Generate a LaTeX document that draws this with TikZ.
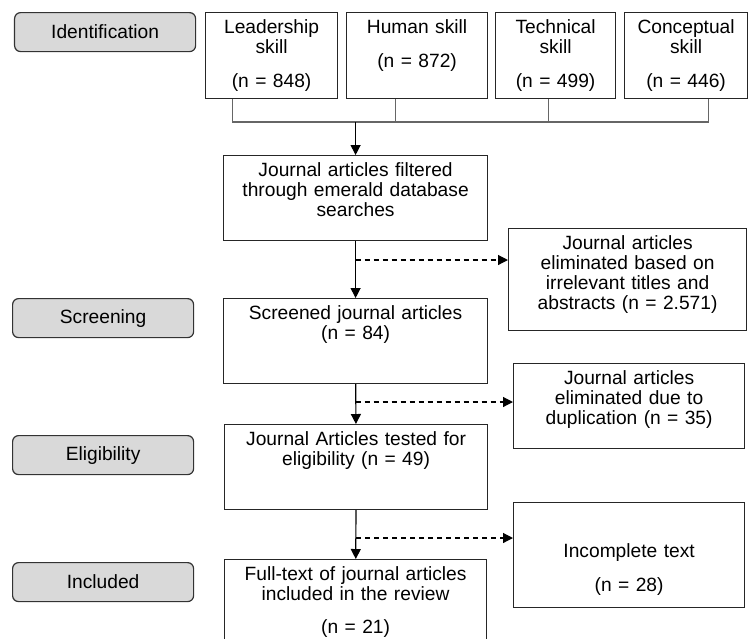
\documentclass[tikz,border=0pt]{standalone}
\usepackage{fontspec}
\setmainfont{Liberation Sans}
\usetikzlibrary{arrows.meta,calc}

\begin{document}
\begin{tikzpicture}[x=0.5pt, y=-0.5pt,
  every node/.style={font=\fontsize{9.6}{10}\selectfont},
  phase/.style={draw=black!80, fill=gray!30, rounded corners=3pt,
                line width=0.6pt, minimum width=90.5pt, minimum height=19.5pt,
                anchor=north west, inner sep=0pt},
  pbox/.style={draw=black!85, line width=0.6pt, anchor=north west,
               align=center, inner sep=0pt, text height=10.5pt},
  link/.style={draw=black!60, line width=0.7pt},
  arr/.style={-{Triangle[length=5pt, width=5pt]}, line width=0.6pt},
  darr/.style={arr, dash pattern=on 2.5pt off 2pt},
]
\useasboundingbox (0,0) rectangle (752,639);
\clip (0,0) rectangle (752,639);

% phases
\node[phase] (idn) at (14,12) {Identification};
\node[phase] (scrn) at (12,298) {Screening};
\node[phase] (elig) at (12,435) {Eligibility};
\node[phase] (incl) at (12,562) {Included};

% skill searches
\node[pbox, text width=66pt, text depth=32.5pt] (lead) at (205,12)
  {Leadership\\skill\\[7pt](n = 848)};
\node[pbox, text width=70.5pt, text depth=32.5pt] (hum) at (346,12)
  {Human skill\\[7pt](n = 872)};
\node[pbox, text width=60pt, text depth=32.5pt] (tec) at (495,12)
  {Technical\\skill\\[7pt](n = 499)};
\node[pbox, text width=61.5pt, text depth=32.5pt] (cpt) at (624,12)
  {Conceptual\\skill\\[7pt](n = 446)};

% main flow
\node[pbox, text width=132pt, text depth=32pt] (filt) at (223,155)
  {Journal articles filtered\\through emerald database\\searches};
\node[pbox, text width=132pt, text depth=32pt] (scr) at (223,298)
  {Screened journal articles\\(n = 84)};
\node[pbox, text width=131.5pt, text depth=32pt] (elg) at (224,424)
  {Journal Articles tested for\\eligibility (n = 49)};
\node[pbox, text width=131pt, text depth=40pt] (inc) at (224,559)
  {Full-text of journal articles\\included in the review\\[6.5pt](n = 21)};

% exclusions
\node[pbox, text width=119pt, text depth=40.5pt] (ex1) at (508,228)
  {Journal articles\\eliminated based on\\irrelevant titles and\\abstracts (n = 2.571)};
\node[pbox, text width=115.5pt, text depth=32pt] (ex2) at (513,363)
  {Journal articles\\eliminated due to\\duplication (n = 35)};
\node[pbox, text width=115.5pt, text depth=42pt] (ex3) at (513,502)
  {\mbox{}\\[7pt]Incomplete text\\[7pt](n = 28)};

% merge of the searches
\coordinate (bar) at (filt.north |- 0,122);
\foreach \n/\s in {lead/-19.5pt, hum/-10.75pt, tec/-3.5pt, cpt/11.25pt}
  \draw[link] ([xshift=\s]\n.south) |- (bar);
\draw[arr] (bar) -- (filt.north);

\draw[arr] (filt) -- (scr);
\draw[arr] (scr) -- (elg);
\draw[arr] (elg) -- (inc);

\coordinate (d1) at (filt.south |- 0,260);
\coordinate (d2) at (scr.south |- 0,402);
\coordinate (d3) at (elg.south |- 0,538);
\draw[darr] (d1) -- (d1 -| ex1.west);
\draw[darr] (d2) -- (d2 -| ex2.west);
\draw[darr] (d3) -- (d3 -| ex3.west);
\end{tikzpicture}
\end{document}
